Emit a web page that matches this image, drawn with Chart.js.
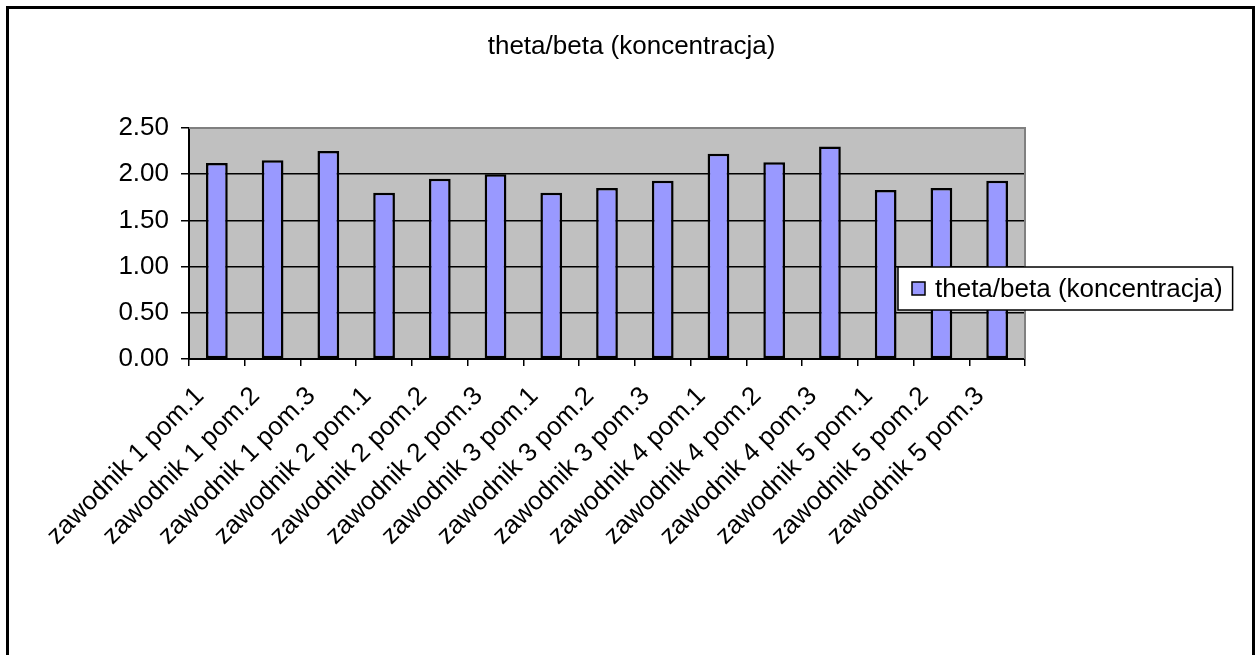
<!DOCTYPE html>
<html>
<head>
<meta charset="utf-8">
<script src="https://cdn.jsdelivr.net/npm/chart.js@4"></script>
<style>
  body { margin: 0; background: #fff; }
  #wrap { width: 1255px; height: 655px; }
</style>
</head>
<body>
<div id="wrap"><canvas id="chart" width="1255" height="655"></canvas></div>
<script>
// dane
const chartTitle = 'theta/beta (koncentracja)';
const seriesName = 'theta/beta (koncentracja)';
const categories = [
  'zawodnik 1 pom.1', 'zawodnik 1 pom.2', 'zawodnik 1 pom.3',
  'zawodnik 2 pom.1', 'zawodnik 2 pom.2', 'zawodnik 2 pom.3',
  'zawodnik 3 pom.1', 'zawodnik 3 pom.2', 'zawodnik 3 pom.3',
  'zawodnik 4 pom.1', 'zawodnik 4 pom.2', 'zawodnik 4 pom.3',
  'zawodnik 5 pom.1', 'zawodnik 5 pom.2', 'zawodnik 5 pom.3'
];
const values = [2.12, 2.15, 2.25, 1.80, 1.95, 2.00, 1.80, 1.85, 1.93, 2.22, 2.13, 2.30, 1.83, 1.85, 1.93];
const yMin = 0, yMax = 2.5, yStep = 0.5;

const FONT = 'Arial, "Liberation Sans", sans-serif';
const FSIZE = 26;
const BAR_COLOR = '#9999FF';

// tło obszaru wykresu, ramka, tytuł, legenda
const excelLook = {
  id: 'excelLook',
  beforeDraw(chart) {
    const { ctx, chartArea: a } = chart;
    ctx.save();
    ctx.fillStyle = '#C0C0C0';
    ctx.fillRect(a.left, a.top, a.right - a.left, a.bottom - a.top);
    // zewnetrzna ramka
    ctx.strokeStyle = '#000';
    ctx.lineWidth = 3;
    ctx.strokeRect(7.5, 7.5, chart.width - 9, chart.height + 20);
    // tytul
    ctx.fillStyle = '#000';
    ctx.font = FSIZE + 'px ' + FONT;
    ctx.textAlign = 'center';
    ctx.textBaseline = 'middle';
    ctx.fillText(chartTitle, chart.width / 2 + 4, 47);
    ctx.restore();
  },
  afterDraw(chart) {
    const { ctx, chartArea: a } = chart;
    ctx.save();
    // szara ramka gora/prawo
    ctx.strokeStyle = '#808080';
    ctx.lineWidth = 2;
    ctx.beginPath();
    ctx.moveTo(a.left, a.top);
    ctx.lineTo(a.right, a.top);
    ctx.lineTo(a.right, a.bottom);
    ctx.stroke();

    // legenda
    ctx.font = FSIZE + 'px ' + FONT;
    const tw = ctx.measureText(seriesName).width;
    const bx = a.right - 127, by = a.top + 139, bh = 43;
    const bw = 37 + tw + 10;
    ctx.fillStyle = '#fff';
    ctx.fillRect(bx, by, bw, bh);
    ctx.strokeStyle = '#000';
    ctx.lineWidth = 1.5;
    ctx.strokeRect(bx, by, bw, bh);
    ctx.fillStyle = BAR_COLOR;
    ctx.fillRect(bx + 14, by + 15, 13, 13);
    ctx.strokeRect(bx + 14, by + 15, 13, 13);
    ctx.fillStyle = '#000';
    ctx.textAlign = 'left';
    ctx.textBaseline = 'middle';
    ctx.fillText(seriesName, bx + 37, by + bh / 2 + 1);
    ctx.restore();
  }
};

const ctx = document.getElementById('chart').getContext('2d');
const chart = new Chart(ctx, {
  type: 'bar',
  data: {
    labels: categories,
    datasets: [{
      label: seriesName,
      data: values,
      backgroundColor: BAR_COLOR,
      borderColor: '#000',
      borderWidth: 2.5,
      borderSkipped: false,
      barPercentage: 0.39,
      categoryPercentage: 1
    }]
  },
  options: {
    responsive: false,
    animation: false,
    layout: { padding: { left: 0, right: 230, top: 128, bottom: 0 } },
    plugins: {
      legend: { display: false },
      title: { display: false },
      tooltip: { enabled: false }
    },
    scales: {
      x: {
        grid: {
          offset: true,
          drawOnChartArea: false,
          color: '#000',
          tickLength: 7,
          lineWidth: 1.5
        },
        border: { color: '#000', width: 2 },
        ticks: {
          autoSkip: false,
          maxRotation: 45,
          minRotation: 45,
          color: '#000',
          font: { family: FONT, size: FSIZE },
          padding: 15,
          labelOffset: -17
        },
        afterFit(scale) { scale.height = 296; }
      },
      y: {
        min: yMin,
        max: yMax,
        grid: {
          color: (c) => (c.tick && c.tick.value === yMax ? 'rgba(0,0,0,0)' : '#000'),
          tickColor: '#000',
          tickLength: 8,
          lineWidth: 1.5
        },
        border: { color: '#000', width: 2 },
        ticks: {
          stepSize: yStep,
          color: '#000',
          font: { family: FONT, size: FSIZE },
          padding: 12,
          callback: (v) => Number(v).toFixed(2)
        },
        afterFit(scale) { scale.width = 189; }
      }
    }
  },
  plugins: [excelLook]
});
</script>
</body>
</html>
